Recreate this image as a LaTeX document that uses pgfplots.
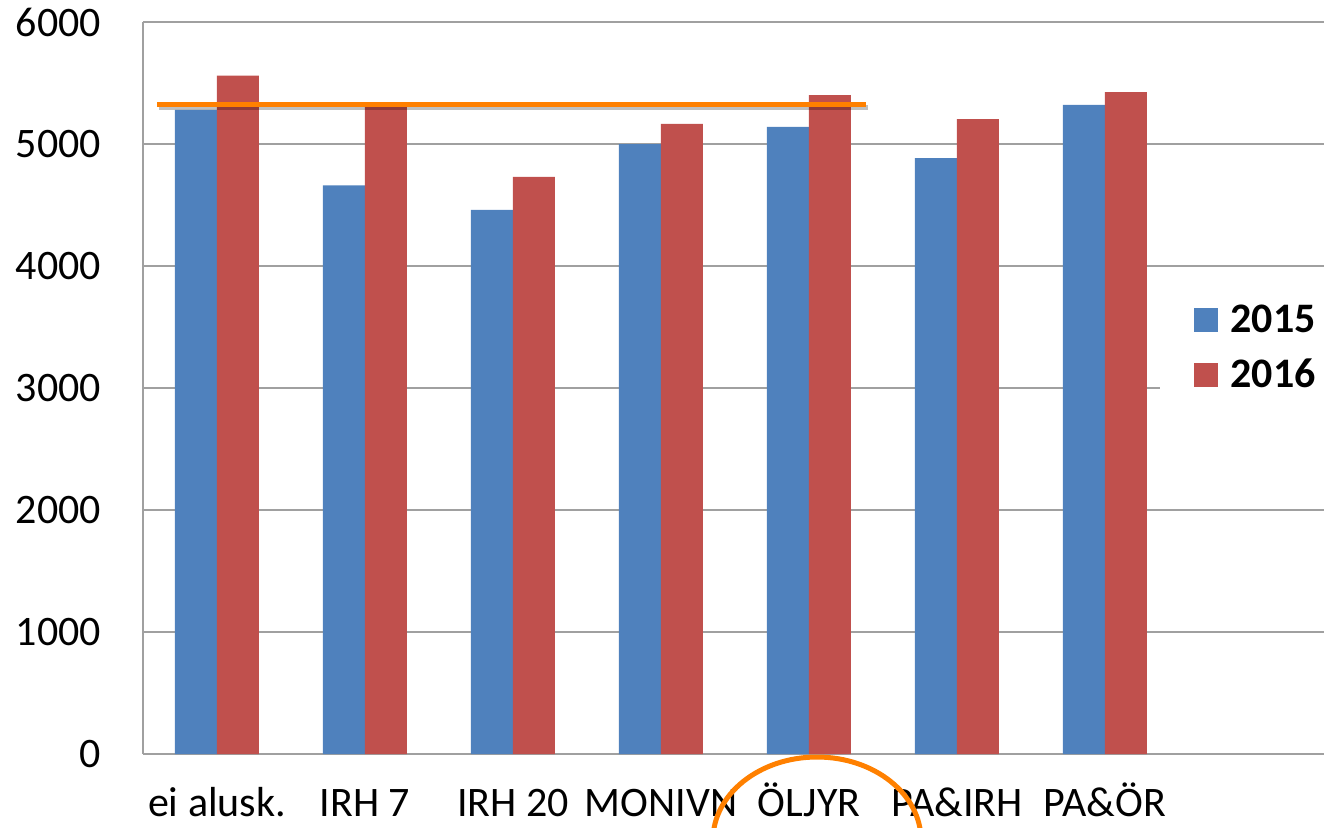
\documentclass[border=0pt]{standalone}
\usepackage{fontspec}
\setmainfont{Carlito}
\usepackage{pgfplots}
\pgfplotsset{compat=1.18}
\definecolor{b15}{RGB}{79,129,189}
\definecolor{r16}{RGB}{192,80,77}
\definecolor{org}{RGB}{255,128,0}
\definecolor{gridc}{RGB}{160,160,160}
\begin{document}
\begin{tikzpicture}
\begin{axis}[
  at={(0,0)}, anchor=south west,
  scale only axis, width=592pt, height=366pt,
  ymin=0, ymax=6000, ytick={0,1000,...,6000},
  xmin=-0.5, xmax=7.5, xtick={0,...,6},
  xticklabels={ei alusk.,IRH 7,IRH 20,MONIVN,ÖLJYR,PA\&IRH,PA\&ÖR},
  ybar=0pt, bar width=21pt,
  axis lines*=left, axis line style={gridc, line width=1pt},
  ymajorgrids, grid style={gridc, line width=1pt},
  major tick length=0pt,
  tick label style={font=\fontsize{21}{25}\selectfont},
  /pgf/number format/assume math mode=true,
  scaled y ticks=false,
  yticklabel style={/pgf/number format/1000 sep={}, anchor=east, xshift=-17.5pt},
  xticklabel style={anchor=base, yshift=-31pt},
  clip=false,
  legend style={at={(rel axis cs:0.859,0.642)}, anchor=north west, draw=none, fill=white,
    inner xsep=17pt, inner ysep=8pt, row sep=8pt,
    font=\bfseries\fontsize{21}{25}\selectfont},
  legend cell align=left,
  legend image code/.code={\fill[#1] (0pt,-6pt) rectangle (12pt,6pt);},
  /tikz/every odd column/.append style={column sep=4pt},
]
\addplot[fill=b15, draw=none] coordinates {(0,5280) (1,4660) (2,4460) (3,5000) (4,5140) (5,4885) (6,5320)};
\addplot[fill=r16, draw=none] coordinates {(0,5560) (1,5310) (2,4730) (3,5165) (4,5400) (5,5205) (6,5425)};
\legend{2015,2016}
% orange annotations
\draw[black, opacity=0.25, line width=2.5pt] (axis cs:-0.39,5300) -- (axis cs:4.40,5300);
\draw[org, line width=2.5pt] (axis cs:-0.405,5320) -- (axis cs:4.385,5320);
\draw[org, line width=2.5pt] (axis cs:4.054,-705) ellipse [x radius=52pt, y radius=41.5pt];
\end{axis}
\pgfresetboundingbox
\useasboundingbox (-71.5pt,-36.5pt) rectangle (590.5pt,377pt);
\end{tikzpicture}
\end{document}
